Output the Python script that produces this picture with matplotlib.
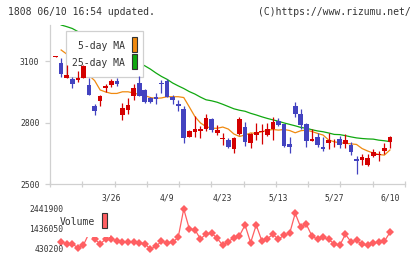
import numpy as np
import matplotlib
matplotlib.use("Agg")
import matplotlib.pyplot as plt
import matplotlib.transforms as mtransforms
from matplotlib.patches import Rectangle

# ---------------- data ----------------
opens = [3122, 3089, 3016, 3012, 3007, 3018, 2983, 2882, 2906, 2967,
         2984, 3004, 2838, 2861, 2929, 2993, 2959, 2920, 2926, 2989,
         3004, 2926, 2890, 2866, 2731, 2755, 2760, 2767, 2817, 2747,
         2722, 2715, 2669, 2744, 2777, 2698, 2739, 2755, 2741, 2768,
         2809, 2793, 2695, 2881, 2841, 2793, 2710, 2728, 2682, 2701,
         2693, 2719, 2695, 2690, 2621, 2617, 2594, 2638, 2642, 2661, 2706]
highs = [3126, 3113, 3080, 3023, 3051, 3080, 3016, 2890, 2934, 2988,
         3011, 3018, 2895, 2920, 2988, 3025, 2962, 2927, 2942, 3007,
         3011, 2934, 2910, 2880, 2763, 2833, 2783, 2841, 2820, 2788,
         2747, 2726, 2731, 2825, 2801, 2750, 2796, 2795, 2796, 2827,
         2822, 2795, 2731, 2900, 2865, 2796, 2767, 2750, 2727, 2751,
         2720, 2734, 2744, 2707, 2639, 2646, 2644, 2672, 2663, 2702, 2734]
lows = [3122, 3023, 3015, 2970, 2999, 3015, 2934, 2837, 2882, 2950,
        2975, 2978, 2812, 2841, 2910, 2931, 2895, 2895, 2889, 2942,
        2924, 2890, 2858, 2701, 2729, 2731, 2726, 2758, 2756, 2739,
        2692, 2676, 2650, 2740, 2687, 2677, 2715, 2697, 2734, 2715,
        2783, 2683, 2653, 2827, 2770, 2682, 2708, 2679, 2661, 2671,
        2683, 2678, 2678, 2641, 2550, 2593, 2588, 2630, 2612, 2646, 2678]
closes = [3126, 3037, 3032, 2986, 3018, 3077, 2934, 2858, 2929, 2978,
          3004, 2988, 2872, 2885, 2967, 2931, 2898, 2898, 2915, 2987,
          2926, 2910, 2880, 2723, 2758, 2768, 2770, 2823, 2763, 2764,
          2724, 2682, 2726, 2817, 2706, 2744, 2755, 2758, 2768, 2804,
          2788, 2685, 2682, 2841, 2788, 2711, 2720, 2690, 2673, 2715,
          2695, 2690, 2715, 2658, 2613, 2633, 2627, 2656, 2645, 2677, 2728]

ma5 = [np.nan, 3154, 3134, 3110, 3090, 3060, 3030, 3005, 2959, 2949,
       2942, 2942, 2950, 2950, 2944, 2937, 2932, 2922, 2918, 2920,
       2926, 2926, 2926, 2922, 2876, 2829, 2798, 2780, 2772, 2772,
       2778, 2768, 2744, 2732, 2739, 2749, 2747, 2755, 2762, 2766,
       2763, 2766, 2761, 2750, 2760, 2763, 2756, 2747, 2739, 2715,
       2706, 2701, 2699, 2696, 2693, 2673, 2661, 2651, 2644, 2641, 2666]
ma25 = [np.nan, 3276, 3268, 3259, 3244, 3229, 3215, 3200, 3185, 3171,
        3156, 3141, 3129, 3117, 3102, 3090, 3077, 3061, 3042, 3025,
        3011, 2993, 2979, 2966, 2951, 2939, 2924, 2911, 2906, 2899,
        2889, 2878, 2867, 2860, 2855, 2845, 2837, 2828, 2820, 2813,
        2806, 2798, 2791, 2784, 2776, 2772, 2765, 2759, 2755, 2749,
        2742, 2741, 2736, 2730, 2725, 2722, 2720, 2719, 2714, 2711, 2707]
volume = [np.nan, 798900, 681700, 681700, 497200, 631400, 1218200, 933100, 681700, 933100,
          933100, 849300, 798900, 798900, 798900, 732000, 698400, 430200, 564300, 815800,
          748700, 765500, 1016900, 2441900, 1436050, 1402400, 933100, 1184600, 1234900, 966600,
          614600, 798900, 1000200, 1100800, 1637200, 748700, 1637200, 849300, 949900, 1167800,
          916400, 1134300, 1218200, 2224000, 1519900, 1670700, 1084000, 916400, 1016900, 916400,
          681700, 614600, 1167800, 798900, 866100, 664900, 614600, 715200, 798900, 815800, 1268400]

date_labels = ["3/26", "4/9", "4/23", "5/13", "5/27", "6/10"]
date_index = [10, 20, 30, 40, 50, 60]
price_ticks = [2500, 2800, 3100]
vol_tick_labels = ["2441900", "1436050", "430200"]

# ---------------- style ----------------
W, H = 420, 259
RED = "#d40000"
BLUE = "#4343c0"
ORANGE = "#f08a10"
GREEN = "#10a810"
VOLC = "#ff5f62"
AXC = "#d0d0d0"
TXT = "#333333"
FONT = "DejaVu Sans Mono"
plt.rcParams["font.family"] = [FONT, "DejaVu Sans"]

def fx(px):
    return px / W

def fy(py):
    return 1 - py / H

fig = plt.figure(figsize=(W / 100, H / 100), dpi=100)
fig.patch.set_facecolor("white")

ax = fig.add_axes([fx(50), fy(184), fx(405) - fx(50), fy(25) - fy(184)])
axv = fig.add_axes([fx(50), fy(249), fx(405) - fx(50), fy(209) - fy(249)], sharex=ax)

n = len(closes)
idx = np.arange(n)
o = np.array(opens, float)
c = np.array(closes, float)
hi = np.array(highs, float)
lo = np.array(lows, float)
up = c >= o
cols = np.where(up, RED, BLUE)

xlim = (-1.0, 62.7)
ax.set_xlim(*xlim)
ax.set_ylim(2500, 3276)

# MA lines (below legend)
ax.plot(idx, ma5, color=ORANGE, lw=0.9, zorder=2)
ax.plot(idx, ma25, color=GREEN, lw=0.9, zorder=2)

# candles (above legend)
ax.vlines(idx, lo, hi, colors=cols, lw=0.9, zorder=5)
bottoms = np.minimum(o, c)
heights = np.maximum(np.abs(c - o), 4.5)
ax.bar(idx, heights, bottom=bottoms, width=0.84, color=cols, linewidth=0, zorder=5)

for s in ["top", "right"]:
    ax.spines[s].set_visible(False)
for s in ["left", "bottom"]:
    ax.spines[s].set_color(AXC)
    ax.spines[s].set_linewidth(0.9)
ax.set_yticks(price_ticks)
ax.set_yticklabels([str(t) for t in price_ticks])
ax.tick_params(axis="y", length=3.6, width=0.9, color=AXC, labelsize=5.8,
               labelcolor=TXT, pad=4)
ax.set_xticks(np.linspace(xlim[0], xlim[1], 12))
ax.tick_params(axis="x", direction="inout", length=4.8, width=0.9, color=AXC,
               labelbottom=False)
for lab, i in zip(date_labels, date_index):
    ax.text(i, -0.09, lab, transform=ax.get_xaxis_transform(), ha="center",
            va="center", fontsize=5.8, color=TXT)

# price legend
ax.add_patch(Rectangle((fx(65.7), fy(76.7)), fx(143.3) - fx(65.7), fy(30.7) - fy(76.7),
                       transform=fig.transFigure, facecolor="white", edgecolor=AXC,
                       lw=0.9, zorder=3, clip_on=False))
ax.text(fx(124.5), fy(46), "5-day MA", transform=fig.transFigure, ha="right",
        va="center", fontsize=7.0, color=TXT, zorder=3.5)
ax.text(fx(124.5), fy(62.7), "25-day MA", transform=fig.transFigure, ha="right",
        va="center", fontsize=7.0, color=TXT, zorder=3.5)
ax.add_patch(Rectangle((fx(131.7), fy(52.3)), fx(137.3) - fx(131.7), fy(37.3) - fy(52.3),
                       transform=fig.transFigure, facecolor=ORANGE, edgecolor="#333333",
                       lw=0.8, zorder=3.5, clip_on=False))
ax.add_patch(Rectangle((fx(131.7), fy(69.3)), fx(137.3) - fx(131.7), fy(54.3) - fy(69.3),
                       transform=fig.transFigure, facecolor=GREEN, edgecolor="#333333",
                       lw=0.8, zorder=3.5, clip_on=False))

# volume
vol = np.array(volume, float)
axv.plot(idx, vol, color=VOLC, lw=0.9, marker="D", markersize=3.6,
         markeredgewidth=0, clip_on=False, zorder=2)
axv.set_ylim(np.nanmin(vol), np.nanmax(vol))
axv.set_xlim(*xlim)
axv.axis("off")
vt = [np.nanmax(vol), (np.nanmax(vol) + np.nanmin(vol)) / 2, np.nanmin(vol)]
btf = mtransforms.blended_transform_factory(fig.transFigure, axv.transData)
for v, lab in zip(vt, vol_tick_labels):
    axv.text(fx(63.5), v, lab, transform=btf, ha="right", va="center",
             fontsize=5.8, color=TXT, zorder=6)

axv.add_patch(Rectangle((fx(64.5), fy(237.3)), fx(110) - fx(64.5), fy(211) - fy(237.3),
                        transform=fig.transFigure, facecolor="white", edgecolor="none",
                        zorder=3, clip_on=False))
axv.text(fx(94.5), fy(222.3), "Volume", transform=fig.transFigure, ha="right",
         va="center", fontsize=7.0, color=TXT, zorder=4)
axv.add_patch(Rectangle((fx(101.7), fy(228.3)), fx(107.3) - fx(101.7), fy(213.3) - fy(228.3),
                        transform=fig.transFigure, facecolor=VOLC, edgecolor="#333333",
                        lw=0.8, zorder=4, clip_on=False))

# header texts
fig.text(fx(8), fy(12.3), "1808 06/10 16:54 updated.", ha="left", va="center",
         fontsize=7.0, color=TXT)
fig.text(fx(410.5), fy(12.3), "(C)https://www.rizumu.net/", ha="right", va="center",
         fontsize=7.0, color=TXT)

fig.savefig("out.png", dpi=100, facecolor="white")
